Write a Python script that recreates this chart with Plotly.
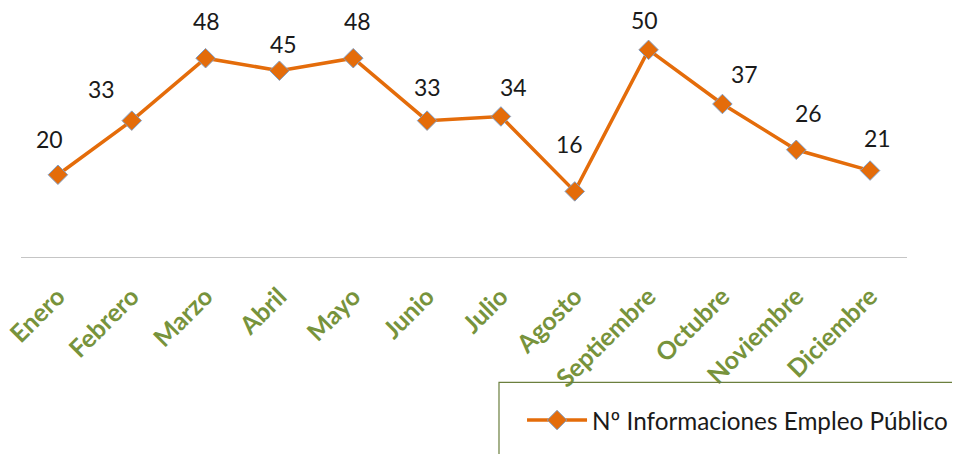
import plotly.graph_objects as go

months = ["Enero", "Febrero", "Marzo", "Abril", "Mayo", "Junio", "Julio",
          "Agosto", "Septiembre", "Octubre", "Noviembre", "Diciembre"]
values = [20, 33, 48, 45, 48, 33, 34, 16, 50, 37, 26, 21]
series_name = "Nº Informaciones Empleo Público"

# label placement offsets in pixels (layout only)
label_dx = [-8, -30, 1, 4, 4, 0, 13, -5, -4, 22, 12, 7]
label_dy = [36, 32, 37, 27, 37, 34, 29, 47, 30, 30, 37, 33]

FONT = "Lato, Open Sans, sans-serif"

fig = go.Figure()
fig.add_trace(go.Scatter(
    x=months, y=values, name=series_name, mode="lines+markers",
    line=dict(color="#E46C0A", width=3.5),
    marker=dict(symbol="diamond", size=15, color="#E46C0A",
                line=dict(color="#7F9DC4", width=1)),
    cliponaxis=False,
))

for m, v, dx, dy in zip(months, values, label_dx, label_dy):
    fig.add_annotation(x=m, y=v, text=str(v), showarrow=False, xshift=dx, yshift=dy,
                       borderpad=0,
                       font=dict(family=FONT, size=23, color="#1a1a1a"))

# legend frame (extends past the figure edge)
fig.add_shape(type="rect", xref="paper", yref="paper", x0=0.5395, x1=1.2,
              y0=-1.5, y1=-0.4976, line=dict(color="#6B7F3E", width=1.2),
              fillcolor="rgba(0,0,0,0)")

fig.update_layout(
    width=952, height=446,
    margin=dict(l=13.1, r=53.1, t=0, b=195.6, autoexpand=False),
    paper_bgcolor="white", plot_bgcolor="white",
    showlegend=True,
    legend=dict(x=0.5655, y=-0.649, xanchor="left", yanchor="middle",
                font=dict(family=FONT, size=24.3, color="#1a1a1a"),
                bgcolor="rgba(0,0,0,0)", itemwidth=60),
    xaxis=dict(type="category", range=[-0.5, 11.5], showgrid=False, zeroline=False,
               showline=False, ticks="", tickangle=-45, automargin=False,
               ticklabelstandoff=18,
               tickfont=dict(family=FONT, size=25, color="#77933C", weight="bold")),
    yaxis=dict(range=[0, 60.06], showgrid=False, zeroline=False, showline=False,
               showticklabels=False, automargin=False),
)
fig.add_shape(type="line", xref="paper", yref="y", x0=0, x1=1, y0=0, y1=0,
              line=dict(color="#8C8C8C", width=1.2))

fig.write_html("out.html")
